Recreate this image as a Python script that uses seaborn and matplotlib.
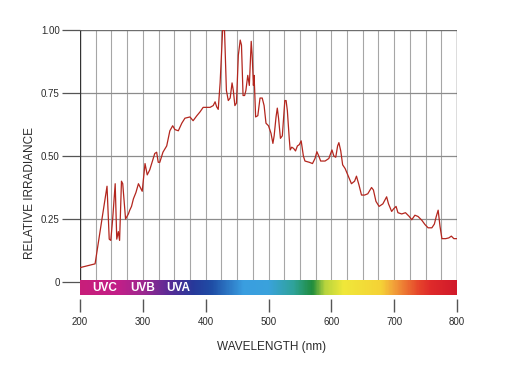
import numpy as np
import pandas as pd
import matplotlib
matplotlib.use("Agg")
import matplotlib.pyplot as plt
import seaborn as sns
from matplotlib.colors import LinearSegmentedColormap

# ---- data ----
wavelength = [200, 224, 243, 246.5, 249, 252, 256, 258.5, 261, 263, 266, 268, 272.5,
              277, 279, 282, 285, 289, 293, 295, 299, 303.5, 307, 311, 319, 322, 324.5,
              327, 332, 338, 343, 347.5, 351, 356.5, 362, 367, 375, 380, 386, 391, 396,
              407, 412, 415, 417.5, 420, 423, 427, 430, 433, 436, 439, 442, 444, 446.5,
              449, 452, 455, 457, 459.5, 462, 464, 467, 469.5, 472.5, 474, 476, 477, 478,
              479.5, 483, 486.5, 490, 493, 496, 500, 504, 507, 509, 512, 514, 516, 519,
              522, 526, 528, 530, 533, 534.5, 537, 540, 543, 546, 549, 552, 555.5, 558,
              565, 570, 574, 577, 580, 583, 590, 596, 601, 604, 607, 610, 612, 615, 618,
              622, 627, 632, 637, 640, 644, 648, 653, 658, 664, 667, 671, 676, 682, 688,
              691, 696, 699, 703, 706, 712, 718, 724, 728, 733, 738, 744, 749, 754, 760,
              764, 767, 770, 773, 776, 782, 787, 791, 795, 800]
irradiance = [0.057, 0.072, 0.38, 0.17, 0.165, 0.25, 0.39, 0.17, 0.20, 0.165, 0.40, 0.39, 0.25,
              0.27, 0.284, 0.30, 0.33, 0.355, 0.39, 0.38, 0.36, 0.47, 0.425, 0.445, 0.51, 0.515, 0.475,
              0.475, 0.515, 0.54, 0.60, 0.62, 0.605, 0.60, 0.63, 0.65, 0.655, 0.64, 0.66, 0.675, 0.693,
              0.693, 0.70, 0.715, 0.695, 0.685, 0.79, 1.0, 1.0, 0.76, 0.72, 0.73, 0.79, 0.76, 0.70,
              0.71, 0.90, 0.96, 0.94, 0.74, 0.74, 0.76, 0.82, 0.78, 0.955, 0.90, 0.78, 0.82, 0.76,
              0.655, 0.66, 0.73, 0.73, 0.70, 0.63, 0.62, 0.59, 0.55, 0.58, 0.655, 0.69, 0.65, 0.57,
              0.58, 0.72, 0.72, 0.68, 0.57, 0.524, 0.535, 0.53, 0.52, 0.54, 0.545, 0.56, 0.50, 0.48,
              0.475, 0.47, 0.49, 0.517, 0.50, 0.48, 0.48, 0.49, 0.524, 0.50, 0.495, 0.54, 0.553, 0.52, 0.465,
              0.45, 0.42, 0.39, 0.40, 0.42, 0.385, 0.345, 0.345, 0.35, 0.375, 0.365, 0.32, 0.30, 0.31, 0.338,
              0.31, 0.28, 0.29, 0.30, 0.275, 0.27, 0.275, 0.26, 0.247, 0.265, 0.26, 0.245, 0.228, 0.215, 0.215,
              0.23, 0.26, 0.285, 0.22, 0.172, 0.172, 0.175, 0.182, 0.172, 0.172]
x_ticks = [200, 300, 400, 500, 600, 700, 800]
y_ticks = [0, 0.25, 0.5, 0.75, 1.0]
y_tick_labels = ["0", "0.25", "0.50", "0.75", "1.00"]
band_labels = ["UVC", "UVB", "UVA"]
band_centers = [240, 300, 357]

# ---- style ----
sns.set_style("white")
plt.rcParams["font.family"] = ["Liberation Sans", "DejaVu Sans"]
text_color = "#2b2b2b"

fig = plt.figure(figsize=(5.32, 3.65), dpi=100)
ax = fig.add_axes([80 / 532, 66 / 365, 377 / 532, 269 / 365])

df = pd.DataFrame({"wavelength": wavelength, "irradiance": irradiance})

# spectrum colour bar
spec_cmap = LinearSegmentedColormap.from_list("spec", [
    (0.000, "#c81e7a"), (0.100, "#c21f88"), (0.167, "#9c2890"), (0.233, "#5a2b96"),
    (0.300, "#27399a"), (0.350, "#1f4ea6"), (0.433, "#3a9ee0"), (0.500, "#3aa2dc"),
    (0.567, "#2fa39a"), (0.617, "#1f8c3c"), (0.650, "#b6d43e"), (0.700, "#f0e83a"),
    (0.800, "#f5d236"), (0.833, "#f2a23a"), (0.900, "#e6452b"), (0.933, "#df2a2b"),
    (1.000, "#d11a2a")])
gradient = np.linspace(0, 1, 600).reshape(1, -1)
ax.imshow(gradient, extent=(200, 800, -0.052, 0.004), aspect="auto", cmap=spec_cmap,
          zorder=3, interpolation="bilinear")
for lab, c in zip(band_labels, band_centers):
    ax.text(c, -0.024, lab, color="white", fontsize=8.5, fontweight="bold",
            ha="center", va="center", zorder=4)

# grid
ax.vlines(np.arange(225, 800, 25), 0.004, 1.0, colors="#a6a6a6", lw=0.8, zorder=1)
ax.hlines([0.25, 0.5, 0.75], 200, 800, colors="#8c8c8c", lw=0.9, zorder=1)
ax.hlines(1.0, 200, 800, colors="#6e6e6e", lw=1.0, zorder=2)
ax.vlines([200], 0.004, 1.0, colors="#333333", lw=1.0, zorder=2)
ax.vlines([800], 0.004, 1.0, colors="#555555", lw=1.0, zorder=2)

sns.lineplot(data=df, x="wavelength", y="irradiance", ax=ax, color="#b3261e",
             linewidth=0.9, zorder=5)

ax.set_xlim(200, 800)
ax.set_ylim(-0.0675, 1.0)
for s in ax.spines.values():
    s.set_visible(False)

ax.set_xticks(x_ticks)
ax.set_yticks(y_ticks)
ax.set_yticklabels(y_tick_labels)
ax.tick_params(axis="x", bottom=True, length=9.4, width=1.0, color="#555555", pad=3.5,
               labelsize=7, labelcolor=text_color, direction="out")
ax.tick_params(axis="y", left=True, length=13, width=0.9, color="#555555", pad=1.5,
               labelsize=7, labelcolor=text_color, direction="out")
ax.set_xlabel("")
ax.set_ylabel("")

fig.text(271.7 / 532, 1 - 347 / 365, "WAVELENGTH (nm)", ha="center", va="center",
         fontsize=8.5, color=text_color)
fig.text(30 / 532, 1 - 193 / 365, "RELATIVE IRRADIANCE", ha="center", va="center",
         rotation=90, fontsize=8.5, color=text_color)

fig.savefig("out.png", dpi=100)
